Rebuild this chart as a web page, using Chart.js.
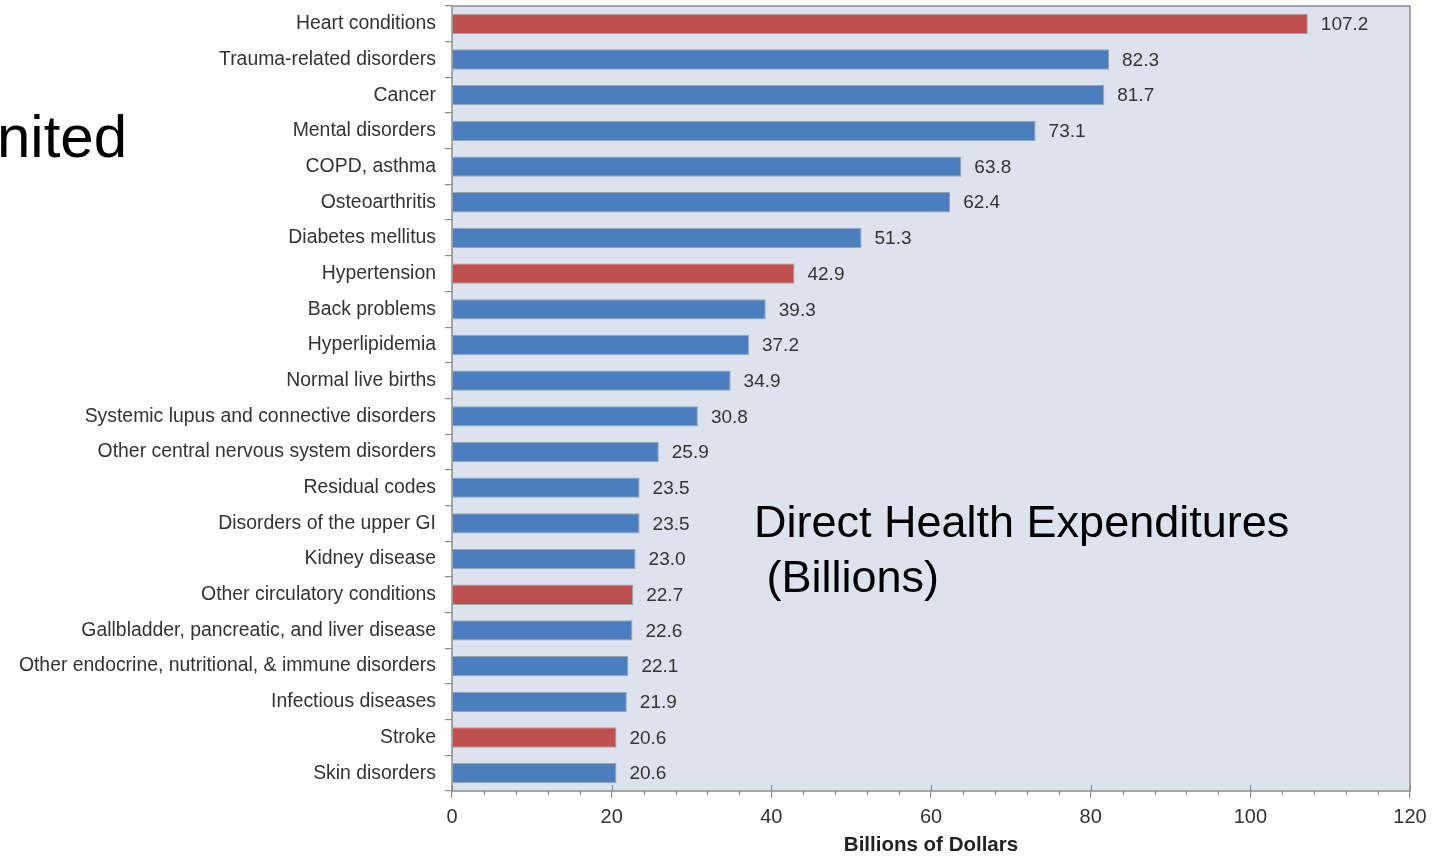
<!DOCTYPE html>
<html>
<head>
<meta charset="utf-8">
<script src="https://cdn.jsdelivr.net/npm/chart.js@4/dist/chart.umd.min.js"></script>
<style>
    body { margin: 0; background: #fff; }
    #wrap { position: relative; width: 1444px; height: 858px; overflow: hidden; }
    .big { position: absolute; font-family: 'Liberation Sans', Arial, sans-serif; color: #000; white-space: pre; }
    #slideWord { left: -3px; top: 107px; font-size: 60px; line-height: 1; }
    #note { left: 754px; top: 494px; font-size: 45px; line-height: 55px; }
</style>
</head>
<body>
<div id="wrap">
    <canvas id="myChart" width="1444" height="858"></canvas>
    <div class="big" id="slideWord">nited</div>
    <div class="big" id="note">Direct Health Expenditures
 (Billions)</div>
</div>
<script>
const categories = [
    'Heart conditions',
    'Trauma-related disorders',
    'Cancer',
    'Mental disorders',
    'COPD, asthma',
    'Osteoarthritis',
    'Diabetes mellitus',
    'Hypertension',
    'Back problems',
    'Hyperlipidemia',
    'Normal live births',
    'Systemic lupus and connective disorders',
    'Other central nervous system disorders',
    'Residual codes',
    'Disorders of the upper GI',
    'Kidney disease',
    'Other circulatory conditions',
    'Gallbladder, pancreatic, and liver disease',
    'Other endocrine, nutritional, & immune disorders',
    'Infectious diseases',
    'Stroke',
    'Skin disorders',
];
const expenditures = [107.2, 82.3, 81.7, 73.1, 63.8, 62.4, 51.3, 42.9, 39.3, 37.2, 34.9,
    30.8, 25.9, 23.5, 23.5, 23.0, 22.7, 22.6, 22.1, 21.9, 20.6, 20.6];
const cardiovascular = ['Heart conditions', 'Hypertension', 'Other circulatory conditions', 'Stroke'];
const xTicks = [0, 20, 40, 60, 80, 100, 120];

const RED = '#c0504d';
const BLUE = '#4a7ebf';
const AXIS = '#8c8c8c';
const FONT = "'Liberation Sans', Arial, sans-serif";

const barColors = categories.map((name) => {
    return cardiovascular.includes(name) ? RED : BLUE;
});

// light panel behind the bars plus the frame around it
const plotPanel = {
    id: 'plotPanel',
    beforeDraw(chart) {
        const { ctx, chartArea: a } = chart;
        ctx.save();
        ctx.fillStyle = '#dce3ee';
        ctx.fillRect(a.left, a.top, a.right - a.left, a.bottom - a.top);
        ctx.restore();
    },
    afterDraw(chart) {
        const { ctx, chartArea: a } = chart;
        const x = chart.scales.x;
        ctx.save();
        ctx.strokeStyle = AXIS;
        ctx.lineWidth = 1.5;
        ctx.strokeRect(a.left, a.top, a.right - a.left, a.bottom - a.top);
        // minor ticks every 4, major ticks poke up into the panel
        ctx.lineWidth = 1.2;
        ctx.beginPath();
        for (let v = 0; v <= 120; v += 4) {
            const px = Math.round(x.getPixelForValue(v)) + 0.5;
            if (v % 20 === 0) {
                ctx.moveTo(px, a.bottom - 6);
                ctx.lineTo(px, a.bottom);
            } else {
                ctx.moveTo(px, a.bottom);
                ctx.lineTo(px, a.bottom + 4);
            }
        }
        ctx.stroke();
        ctx.restore();
    }
};

// value printed just past the end of each bar
const barValues = {
    id: 'barValues',
    afterDatasetsDraw(chart) {
        const { ctx } = chart;
        const meta = chart.getDatasetMeta(0);
        ctx.save();
        ctx.font = '19px ' + FONT;
        ctx.fillStyle = '#333';
        ctx.textBaseline = 'middle';
        meta.data.forEach((bar, i) => {
            ctx.fillText(expenditures[i].toFixed(1), bar.x + 13, bar.y + 1);
        });
        ctx.restore();
    }
};

var ctx = document.getElementById('myChart').getContext('2d');
var chart = new Chart(ctx, { //eslint-disable-line
    type: 'bar',
    data: {
        labels: categories,
        datasets: [{
            label: 'Billions of Dollars',
            data: expenditures,
            backgroundColor: barColors,
            borderColor: 'rgba(120, 120, 120, 0.6)',
            borderWidth: 1,
            barPercentage: 0.57,
            categoryPercentage: 1,
        }]
    },
    options: {
        indexAxis: 'y',
        responsive: false,
        animation: false,
        layout: { padding: { top: 6, right: 34, left: 0, bottom: 0 } },
        plugins: {
            legend: { display: false },
            tooltip: { enabled: false },
        },
        scales: {
            x: {
                min: 0,
                max: 120,
                afterBuildTicks(scale) {
                    scale.ticks = xTicks.map((v) => ({ value: v }));
                },
                afterFit(scale) {
                    scale.height = 67;
                },
                border: { display: false },
                grid: { drawOnChartArea: false, tickLength: 7, color: AXIS, lineWidth: 1.2 },
                ticks: { color: '#333', font: { family: FONT, size: 20 }, padding: 7 },
                title: {
                    display: true,
                    text: 'Billions of Dollars',
                    color: '#222',
                    font: { family: FONT, size: 20.5, weight: 'bold' },
                    padding: { top: 2, bottom: 0 },
                },
            },
            y: {
                afterFit(scale) {
                    scale.width = 452;
                    scale.paddingTop = 0;
                    scale.paddingBottom = 0;
                },
                border: { display: false },
                grid: { drawOnChartArea: false, tickLength: 7, color: AXIS, lineWidth: 1.2 },
                ticks: { color: '#333', font: { family: FONT, size: 19.4 }, padding: 9, autoSkip: false },
            },
        },
    },
    plugins: [plotPanel, barValues],
});
</script>
</body>
</html>
